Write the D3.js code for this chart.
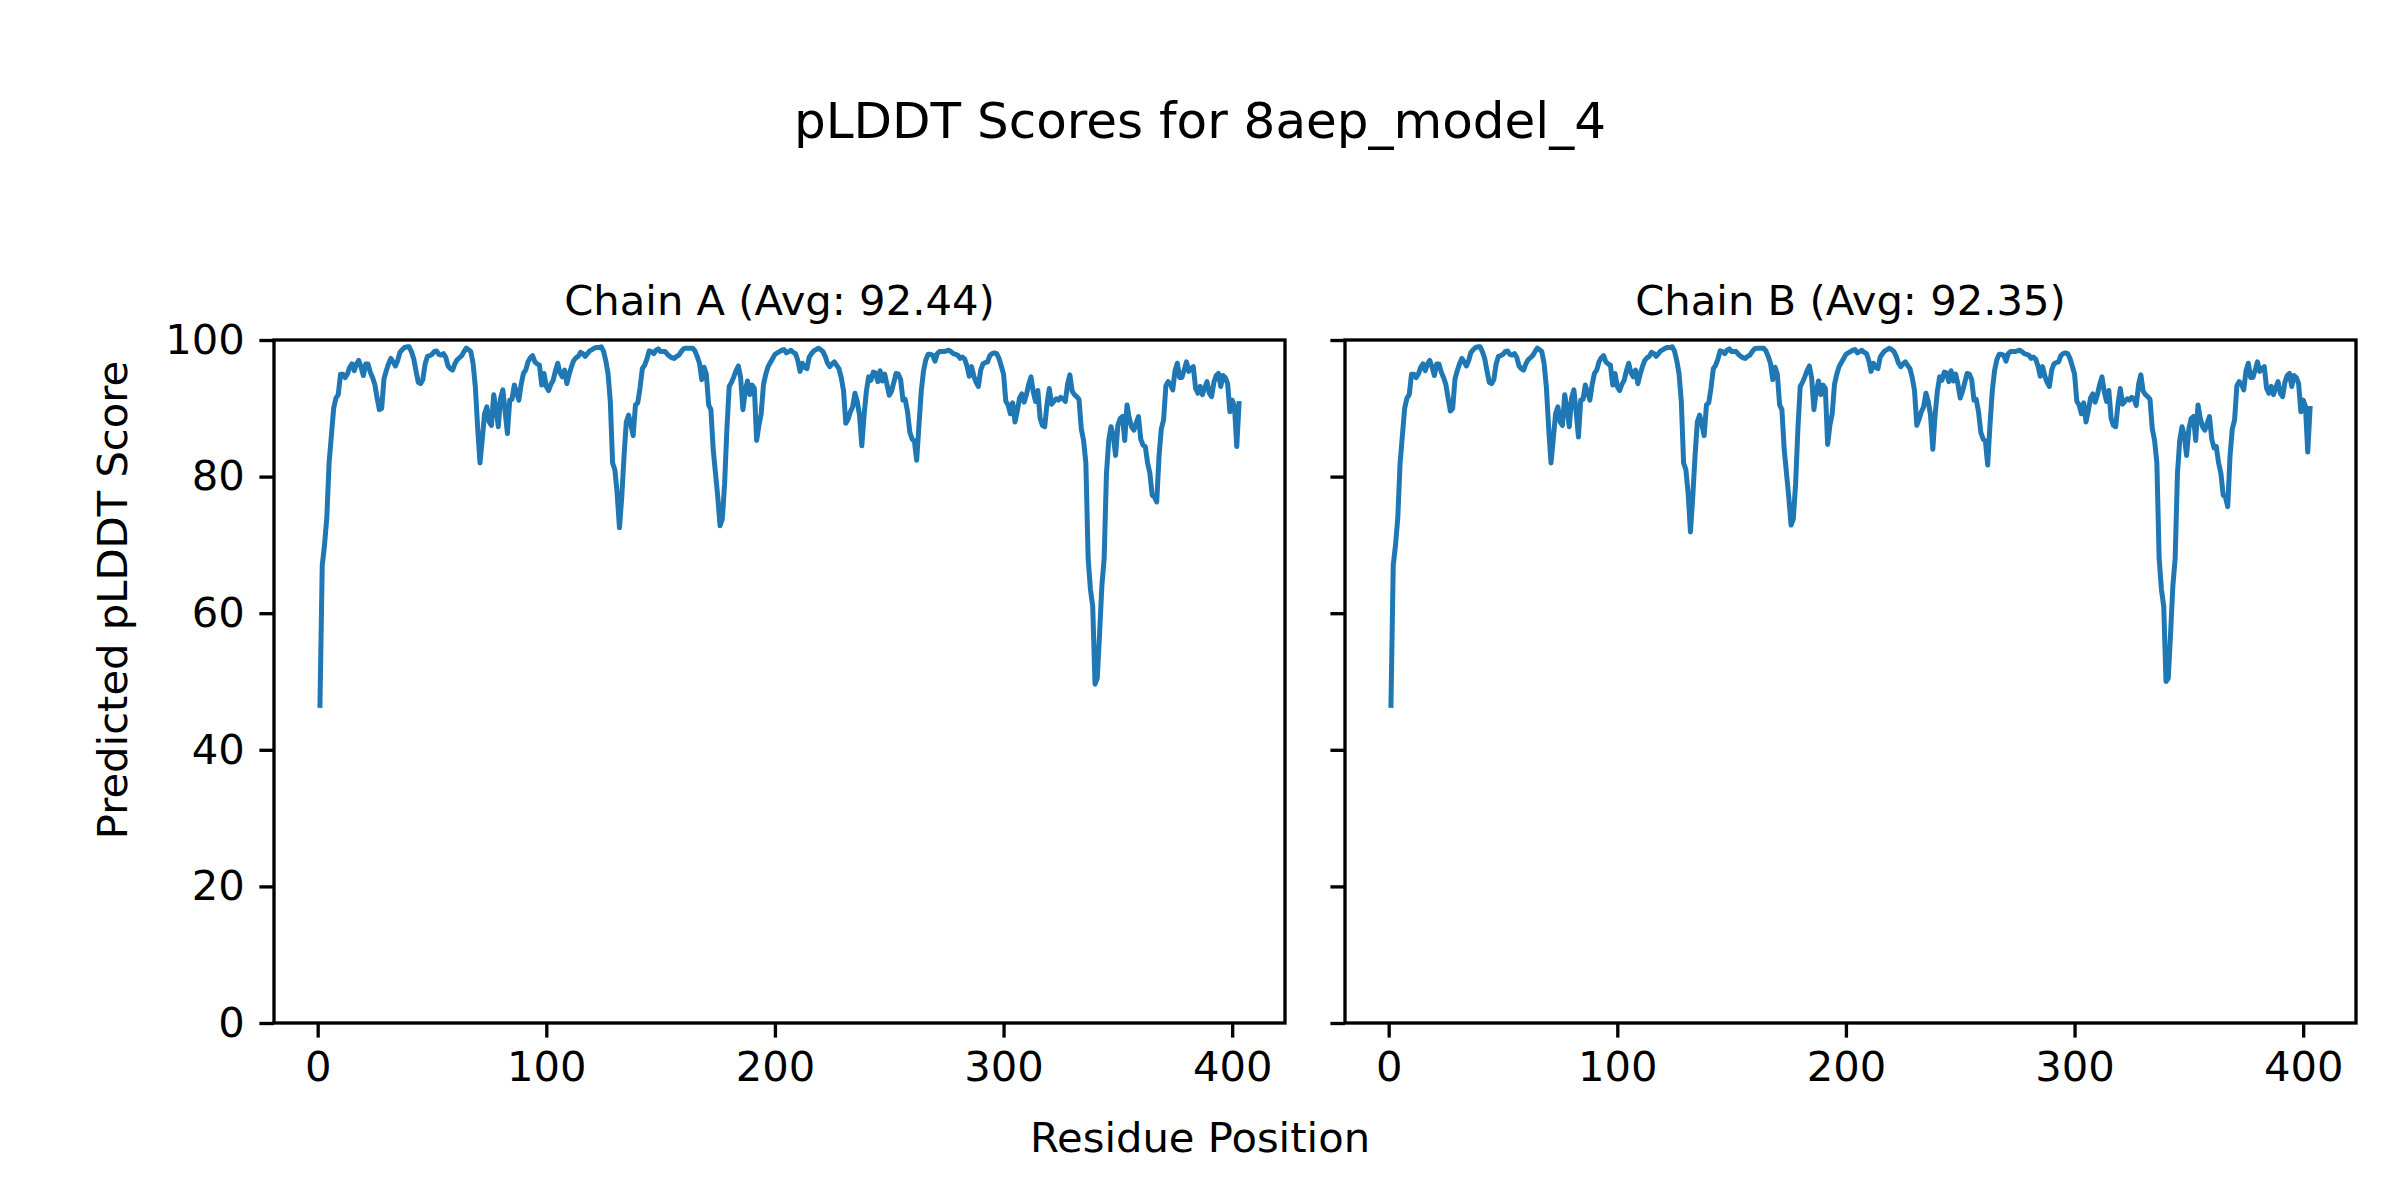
<!DOCTYPE html>
<html><head><meta charset="utf-8">
<script src="https://cdn.jsdelivr.net/npm/d3@7"></script>
<style>body{margin:0;background:#fff} svg{display:block} text{font-family:"DejaVu Sans",sans-serif}</style>
</head><body><svg id="c" width="2400" height="1200"></svg>
<script>
const chainA = [
46.5,67,70,74,82,86,90,91.5,92,95,
95,94.5,95,96,96.5,95.5,96.5,97,96,94.8,
96.5,96.5,95.3,94.5,93.5,91.5,89.8,90,94.3,95.5,
96.5,97.3,96.8,96.2,97,98.2,98.6,98.9,99,99,
98.3,97.3,95.5,93.8,93.6,94.2,96.5,97.6,97.7,97.9,
98.3,98.4,97.9,97.8,98,97.5,96.2,95.8,95.6,96.5,
97.1,97.4,97.7,98.3,98.8,98.6,98.3,96.5,93,87,
82,85.5,89.2,90.2,88,87.5,92,90,87.3,91.5,
92.7,89.5,86.3,91.2,91.3,93.4,92.3,91.2,93.5,95.1,
95.6,96.8,97.4,97.7,96.8,96.5,96.3,93.4,95.1,93.2,
92.6,93.5,94.1,95.5,96.6,95.2,94.6,95.6,93.6,95,
96.1,97,97.4,97.6,98.2,98,97.6,98,98.4,98.6,
98.8,98.9,98.9,99,98.4,97,95.1,91,82,81,
77.5,72.5,77,83,88,89,87.6,86,90.5,90.8,
93,95.8,96.3,97.2,98.4,98.3,98,98.5,98.7,98.3,
98.3,98.3,97.9,97.6,97.4,97.3,97.6,97.8,98.3,98.7,
98.8,98.8,98.8,98.8,98.4,97.6,96.6,94.2,96,95,
90.5,89.8,84,80.5,77,72.8,73.8,79,87,93.2,
93.8,94.6,95.5,96.2,94.5,89.8,92.5,94,92,93.4,
92.9,85.3,87.5,89.2,93.5,95,96.1,96.7,97.3,97.9,
98.1,98.3,98.5,98.6,98.1,98.3,98.5,98.2,98,97,
95.4,96.6,96,95.8,97.5,98,98.4,98.6,98.8,98.6,
98.3,97.6,96.6,96.1,96.5,96.8,96.3,95.8,94.5,92.6,
87.8,88.4,89.5,90.2,92.2,91,89,84.5,89,92.5,
94.6,94.1,95.3,95.2,93.9,95.5,94,95,93.5,91.9,
92.5,93.8,95.1,95,94.2,91.2,91.3,89.5,86.5,85.5,
85.2,82.4,87.5,92.5,95.5,97.1,97.9,97.9,97.8,96.9,
98,98.3,98.3,98.3,98.4,98.5,98.3,98,97.9,97.8,
97.3,97.5,97.2,96.2,94.7,96.1,94.7,93.8,93.2,95.6,
96.5,96.7,96.8,97.7,98,98.1,98,97.3,96.2,95,
91,90.5,89.2,90.8,88,89.6,91.5,92.1,90.9,92,
93.5,94.6,92.4,91,92.6,88.5,87.5,87.3,90.6,92.9,
90.6,91,91.4,91.2,91.6,91.4,91,93.5,94.9,92.5,
92,91.7,91.3,87,85.3,82,68,63.5,61,49.6,
50.5,57,64,68,80.4,85.3,87.3,86,83.1,87.5,
88.5,88.8,85.3,90.5,88.5,87.3,86.8,87.8,88.8,85.5,
84.6,84.4,82,80.5,77.3,77,76.3,83,87,88.3,
93.3,93.9,93.5,92.7,95.5,96.6,94.5,94.5,95.6,96.8,
95.4,95.8,96.1,92.9,92.2,93.2,92,93,93.9,92.2,
91.7,93.8,94.8,95.1,93.2,94.8,94.5,93.6,89.5,91.2,
90.3,84.4,90.7
];
const chainB = [
46.5,67,70,74,82,86,90,91.5,92,95,
95,94.5,95,96,96.5,95.5,96.5,97,96,94.8,
96.5,96.5,95.3,94.5,93.5,91.5,89.6,90,94.3,95.5,
96.5,97.3,96.8,96.2,97,98.2,98.6,98.9,99,99,
98.3,97.3,95.5,93.8,93.6,94.2,96.5,97.6,97.7,97.9,
98.3,98.4,97.9,97.8,98,97.5,96.2,95.8,95.6,96.5,
97.1,97.4,97.7,98.3,98.8,98.6,98.3,96.5,93,87,
82,85.5,89.2,90.2,88,87.5,92,90,87.3,91.5,
92.7,89.5,85.8,91.2,91.3,93.4,92.3,91.2,93.5,95.1,
95.6,96.8,97.4,97.7,96.8,96.5,96.3,93.4,95.1,93.2,
92.6,93.5,94.1,95.5,96.6,95.2,94.6,95.6,93.6,95,
96.1,97,97.4,97.6,98.2,98,97.6,98,98.4,98.6,
98.8,98.9,98.9,99,98.4,97,95.1,91,82,81,
77.5,71.9,77,83,88,89,87.6,86,90.5,90.8,
93,95.8,96.3,97.2,98.4,98.3,98,98.5,98.7,98.3,
98.3,98.3,97.9,97.6,97.4,97.3,97.6,97.8,98.3,98.7,
98.8,98.8,98.8,98.8,98.4,97.6,96.6,94.2,96,95,
90.5,89.8,84,80.5,77,72.9,73.8,79,87,93.2,
93.8,94.6,95.5,96.2,94.5,89.8,92.5,94,92,93.4,
92.9,84.7,87.5,89.2,93.5,95,96.1,96.7,97.3,97.9,
98.1,98.3,98.5,98.6,98.1,98.3,98.5,98.2,98,97,
95.4,96.6,96,95.8,97.5,98,98.4,98.6,98.8,98.6,
98.3,97.6,96.6,96.1,96.5,96.8,96.3,95.8,94.5,92.6,
87.5,88.4,89.5,90.2,92.2,91,89,84,89,92.5,
94.6,94.1,95.3,95.2,93.9,95.5,94,95,93.5,91.5,
92.5,93.8,95.1,95,94.2,91.2,91.3,89.5,86.5,85.5,
85.2,81.7,87.5,92.5,95.5,97.1,97.9,97.9,97.8,96.9,
98,98.3,98.3,98.3,98.4,98.5,98.3,98,97.9,97.8,
97.3,97.5,97.2,96.2,94.7,96.1,94.7,93.8,93.2,95.6,
96.5,96.7,96.8,97.7,98,98.1,98,97.3,96.2,95,
91,90.5,89.2,90.8,88,89.6,91.5,92.1,90.9,92,
93.5,94.6,92.4,91,92.6,88.5,87.5,87.3,90.6,92.9,
90.6,91,91.4,91.2,91.6,91.4,90.4,93.5,94.9,92.5,
92,91.7,91.3,87,85.3,82,68,63.5,61,50,
50.5,57,64,68,80.4,85.3,87.3,86,83.1,87,
88.5,88.8,85.3,90.5,88.5,87.3,86.8,87.8,88.8,85.5,
84.2,84.4,82,80.5,77.3,77,75.6,83,87,88.3,
93.3,93.9,93.5,92.7,95.5,96.6,94.5,94.5,95.6,96.8,
95.4,95.8,96.1,92.9,92.2,93.2,92,93,93.9,92.2,
91.7,93.8,94.8,95.1,93.2,94.8,94.5,93.6,89.5,91.2,
90.3,83.6,90
];
const chainTitles = ["Chain A (Avg: 92.44)", "Chain B (Avg: 92.35)"];
const xTicks = [0, 100, 200, 300, 400];
const yTicks = [0, 20, 40, 60, 80, 100];
const figTitle = "pLDDT Scores for 8aep_model_4";
const xLabel = "Residue Position";
const yLabel = "Predicted pLDDT Score";
const firstResidue = 1;

const W = 2400, H = 1200;
const svg = d3.select("#c");
svg.append("rect").attr("width", W).attr("height", H).attr("fill", "#fff");
const plotTop = 340, plotBottom = 1023;
const color = "#1f77b4";
const tickLen = 14.6, tickW = 3.33, spineW = 3.33;
const tickFont = "41.7px";
const panels = [
  {left: 274, right: 1285, data: chainA, title: chainTitles[0], labels: true},
  {left: 1345, right: 2356, data: chainB, title: chainTitles[1], labels: false}
];
panels.forEach(p => {
  const pts = p.data.map((v, i) => [i + firstResidue, v]);
  const ext = d3.extent(pts, d => d[0]);
  const pad = (ext[1] - ext[0]) * 0.05;
  const x = d3.scaleLinear().domain([ext[0] - pad, ext[1] + pad]).range([p.left, p.right]);
  const y = d3.scaleLinear().domain([0, 100]).range([plotBottom, plotTop]);
  const g = svg.append("g");
  g.append("path").datum(pts)
    .attr("d", d3.line().x(d => x(d[0])).y(d => y(d[1])))
    .attr("fill", "none").attr("stroke", color).attr("stroke-width", 5)
    .attr("stroke-linejoin", "round").attr("stroke-linecap", "square");
  const gx = g.append("g").attr("transform", `translate(0,${plotBottom})`)
    .call(d3.axisBottom(x).tickValues(xTicks).tickSize(tickLen).tickSizeOuter(0).tickPadding(14));
  const gy = g.append("g").attr("transform", `translate(${p.left},0)`)
    .call(d3.axisLeft(y).tickValues(yTicks).tickSize(tickLen).tickSizeOuter(0).tickPadding(14.6)
      .tickFormat(p.labels ? d3.format("d") : () => ""));
  [gx, gy].forEach(a => {
    a.select(".domain").remove();
    a.selectAll(".tick line").attr("stroke", "#000").attr("stroke-width", tickW);
    a.selectAll(".tick text").style("font-size", tickFont).style("font-family", '"DejaVu Sans", sans-serif').attr("fill", "#000");
  });
  g.append("rect").attr("x", p.left).attr("y", plotTop).attr("width", p.right - p.left).attr("height", plotBottom - plotTop)
    .attr("fill", "none").attr("stroke", "#000").attr("stroke-width", spineW);
  g.append("text").attr("x", (p.left + p.right) / 2).attr("y", 315).attr("text-anchor", "middle")
    .style("font-size", "41.7px").text(p.title);
});
svg.append("text").attr("x", 1200).attr("y", 138).attr("text-anchor", "middle").style("font-size", "50px").text(figTitle);
svg.append("text").attr("x", 1200).attr("y", 1152).attr("text-anchor", "middle").style("font-size", "41.7px").text(xLabel);
svg.append("text").attr("transform", "translate(127,600) rotate(-90)").attr("text-anchor", "middle").style("font-size", "41.7px").text(yLabel);
</script></body></html>
